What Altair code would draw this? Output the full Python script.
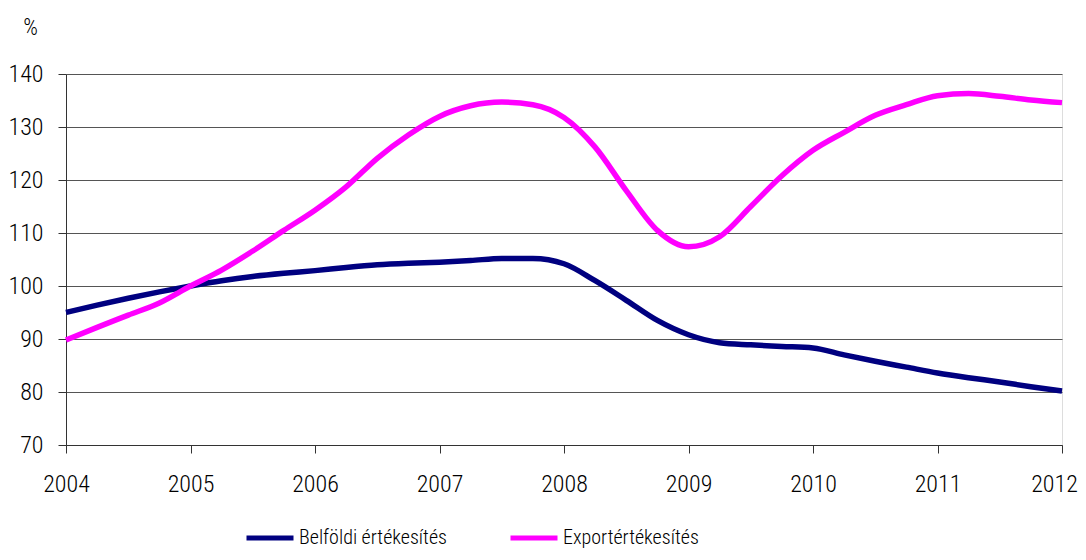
import altair as alt
import pandas as pd

quarters = [2004.00, 2004.25, 2004.50, 2004.75, 2005.00, 2005.25, 2005.50, 2005.75,
            2006.00, 2006.25, 2006.50, 2006.75, 2007.00, 2007.25, 2007.50, 2007.75,
            2008.00, 2008.25, 2008.50, 2008.75, 2009.00, 2009.25, 2009.50, 2009.75,
            2010.00, 2010.25, 2010.50, 2010.75, 2011.00, 2011.25, 2011.50, 2011.75,
            2012.00]

belfoldi = [95.0, 96.4, 97.7, 98.9, 100.0, 101.0, 101.8, 102.4,
            102.9, 103.5, 104.0, 104.3, 104.5, 104.8, 105.2, 105.2,
            104.2, 101.0, 97.3, 93.5, 90.8, 89.3, 88.9, 88.6,
            88.3, 87.0, 85.8, 84.7, 83.6, 82.7, 81.9, 81.0,
            80.2]

export = [89.8, 92.2, 94.5, 96.8, 100.0, 103.0, 106.6, 110.5,
          114.3, 118.7, 124.1, 128.5, 132.0, 134.0, 134.7, 134.2,
          131.8, 126.2, 118.0, 110.5, 107.4, 109.3, 115.0, 120.8,
          125.6, 129.0, 132.2, 134.2, 135.9, 136.3, 135.8, 135.1,
          134.6]

series_names = ["Belföldi értékesítés", "Exportértékesítés"]
series_colors = ["#000080", "#FF00FF"]
year_ticks = [2004, 2005, 2006, 2007, 2008, 2009, 2010, 2011, 2012]
y_ticks = [70, 80, 90, 100, 110, 120, 130, 140]

rows = []
for q, b, e in zip(quarters, belfoldi, export):
    rows.append({"ev": q, "ertek": b, "sorozat": series_names[0]})
    rows.append({"ev": q, "ertek": e, "sorozat": series_names[1]})
df = pd.DataFrame(rows)

FONT = "Roboto Condensed Light, Roboto Condensed, Liberation Sans Narrow, Arial Narrow, Liberation Sans, sans-serif"

chart = alt.Chart(df).mark_line(strokeWidth=5.5, interpolate="monotone").encode(
    x=alt.X("ev:Q",
            scale=alt.Scale(domain=[2004, 2012], nice=False, zero=False),
            axis=alt.Axis(values=year_ticks, format="d", title=None, grid=False,
                          labelFontSize=24, labelFont=FONT, labelColor="#000",
                          tickSize=8, tickColor="#333", domainColor="#333",
                          labelPadding=19, labelFlush=False,
                          labelOffset=alt.condition("datum.value == 2012",
                                                    alt.value(-8), alt.value(0)))),
    y=alt.Y("ertek:Q",
            scale=alt.Scale(domain=[70, 140], nice=False, zero=False),
            axis=alt.Axis(values=y_ticks, title="%", titleAngle=0,
                          titleX=-36, titleY=-47, titleAlign="center",
                          titleBaseline="middle", titleFontSize=23,
                          titleFont=FONT, titleFontWeight="normal", titleColor="#000",
                          labelFontSize=24, labelFont=FONT, labelColor="#000",
                          tickSize=8, tickColor="#333", domainColor="#333",
                          labelPadding=15, gridColor="#555", gridWidth=1)),
    color=alt.Color("sorozat:N",
                    scale=alt.Scale(domain=series_names, range=series_colors),
                    legend=alt.Legend(title=None, orient="none", direction="horizontal",
                                      legendX=178, legendY=438,
                                      symbolType="stroke", symbolSize=2209,
                                      symbolStrokeWidth=5, labelFontSize=20,
                                      labelFont=FONT, labelColor="#000",
                                      labelOffset=3, columnPadding=53,
                                      labelLimit=400)),
).properties(
    width=996, height=371,
    autosize=alt.AutoSizeParams(type="none"),
    padding={"left": 58, "top": 66, "right": 16, "bottom": 107},
).configure_view(stroke="#888", strokeWidth=1.5).configure(background="white")

chart.save("out.html", embed_options={"renderer": "svg", "actions": False})
